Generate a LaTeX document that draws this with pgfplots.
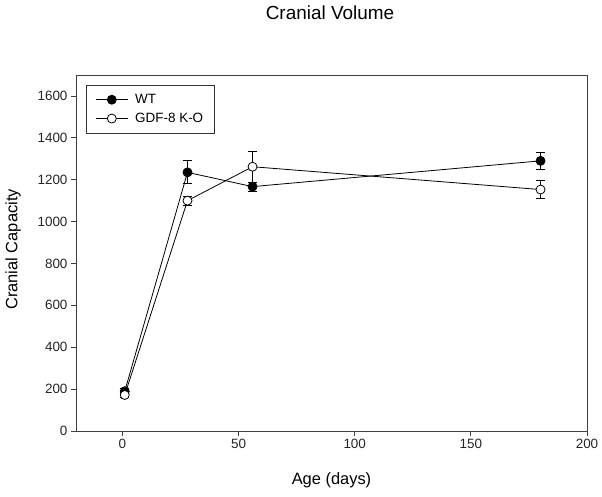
\documentclass[border=0pt]{standalone}
\usepackage{fontspec}
\setmainfont{Liberation Sans}
\usepackage{pgfplots}
\pgfplotsset{compat=1.18}
\begin{document}
\begin{tikzpicture}
\useasboundingbox (-76bp,-66bp) rectangle (526bp,431bp);
\begin{axis}[
  at={(0,0)}, anchor=south west, scale only axis,
  width=511bp, height=356bp,
  xmin=-20, xmax=200, ymin=0, ymax=1700,
  xtick={0,50,100,150,200}, ytick={0,200,...,1600},
  xtick pos=bottom, ytick pos=left, tick align=outside,
  major tick length=5bp,
  axis line style={line width=0.8bp, draw=black!75},
  every tick/.style={line width=0.8bp, black!75},
  tick label style={font=\fontsize{13.5}{15}\selectfont, text=black!85},
  /pgf/number format/assume math mode=true,
  /pgf/number format/1000 sep={},
  xlabel={Age (days)}, ylabel={Cranial Capacity},
  label style={font=\fontsize{16.5}{18}\selectfont},
  xlabel style={at={(axis description cs:0.5,0)}, anchor=center, yshift=-49bp},
  ylabel style={at={(axis description cs:-0.123,0.51)}, anchor=center},
  legend style={at={(rel axis cs:0.0196,0.972)}, anchor=north west,
    draw=black!80, line width=0.8bp, font=\fontsize{13.5}{15}\selectfont,
    inner xsep=9bp, inner ysep=7bp, row sep=4bp, column sep=5bp},
  legend cell align=left,
  legend image code/.code={\draw[mark repeat=2,mark phase=2,#1] plot coordinates {(0bp,0bp)(16bp,0bp)(32bp,0bp)};},
]
\addplot[black, line width=0.8bp, mark=*, mark size=4.5bp,
  mark options={fill=black},
  error bars/.cd, y dir=both, y explicit,
  error bar style={line width=0.8bp, black},
  error mark options={rotate=90, mark size=4.5bp, line width=0.8bp, black}]
  coordinates {
  (1,190) +- (0,12)
  (28,1235) +- (0,55)
  (56,1167) +- (0,22)
  (180,1290) +- (0,40)
};
\addlegendentry{WT}
\addplot[black, line width=0.8bp, mark=*, mark size=4.5bp,
  mark options={fill=white},
  error bars/.cd, y dir=both, y explicit,
  error bar style={line width=0.8bp, black},
  error mark options={rotate=90, mark size=4.5bp, line width=0.8bp, black}]
  coordinates {
  (1,172) +- (0,10)
  (28,1100) +- (0,22)
  (56,1262) +- (0,75)
  (180,1153) +- (0,44)
};
\addlegendentry{GDF-8 K-O}
\end{axis}
\node[font=\fontsize{19}{21}\selectfont] at (254bp,418bp) {Cranial Volume};
\end{tikzpicture}
\end{document}
